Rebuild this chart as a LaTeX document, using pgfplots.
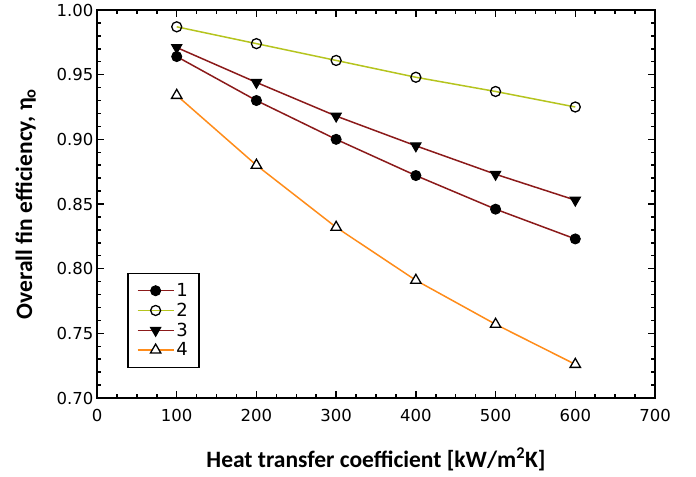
\documentclass[border=0pt]{standalone}
\usepackage{pgfplots}
\pgfplotsset{compat=1.18}
\usepackage{fontspec}
\setmainfont{DejaVu Sans}
\newfontfamily\labelfont{Carlito}
\usetikzlibrary{calc}
\definecolor{darkred}{HTML}{8B1A1A}
\definecolor{lime}{HTML}{B5C41E}
\definecolor{orangeline}{HTML}{FF8C1A}

\begin{document}
\begin{tikzpicture}
\begin{axis}[
  scale only axis,
  width=558pt, height=388pt,
  xmin=0, xmax=700, ymin=0.70, ymax=1.00,
  xtick={0,100,...,700},
  ytick={0.70,0.75,...,1.001},
  minor x tick num=3,
  minor y tick num=4,
  tick align=inside,
  major tick length=7pt,
  minor tick length=4pt,
  every tick/.style={line width=1.5pt, black},
  axis line style={line width=2pt},
  tick label style={font=\fontsize{16.5}{19}\selectfont},
  /pgf/number format/assume math mode=true,
  y tick label style={/pgf/number format/.cd, fixed, fixed zerofill, precision=2},
  x tick label style={yshift=-8pt, /pgf/number format/.cd, fixed},
  xlabel={\labelfont\bfseries Heat transfer coefficient [kW/m\textsuperscript{2}K]},
  ylabel={\labelfont\bfseries Overall fin efficiency, η\textsubscript{o}},
  label style={font=\fontsize{23.5}{27}\selectfont},
  xlabel style={yshift=-19pt},
  ylabel style={yshift=14pt},
  legend style={at={(0.054,0.077)}, anchor=south west, draw=black, line width=1.5pt,
    font=\fontsize{18}{21}\selectfont, row sep=1pt, inner xsep=9pt, inner ysep=8pt},
  legend cell align=left,
  legend image code/.code={\draw[mark repeat=2,mark phase=2,line width=1.5pt] plot coordinates {(0pt,0pt)(18pt,0pt)(36pt,0pt)};},
]
\addplot[darkred, line width=1.5pt, mark=*, mark size=5pt, mark options={draw=black, fill=black, line width=1pt}]
  coordinates {(100,0.964) (200,0.930) (300,0.900) (400,0.872) (500,0.846) (600,0.823)};
\addlegendentry{1}
\addplot[lime, line width=1.5pt, mark=o, mark size=5pt, mark options={draw=black, fill=white, line width=1.3pt}]
  coordinates {(100,0.987) (200,0.974) (300,0.961) (400,0.948) (500,0.937) (600,0.925)};
\addlegendentry{2}
\addplot[darkred, line width=1.5pt, mark=triangle*, mark size=6pt, mark options={draw=black, fill=black, rotate=180, line width=1pt}]
  coordinates {(100,0.971) (200,0.944) (300,0.918) (400,0.895) (500,0.873) (600,0.853)};
\addlegendentry{3}
\addplot[orangeline, line width=1.5pt, mark=triangle*, mark size=6pt, mark options={draw=black, fill=white, line width=1.3pt}]
  coordinates {(100,0.934) (200,0.880) (300,0.832) (400,0.791) (500,0.757) (600,0.726)};
\addlegendentry{4}
\end{axis}
\path ($(current axis.south west)+(-97pt,-78pt)$) rectangle ($(current axis.north east)+(41pt,10pt)$);
\end{tikzpicture}
\end{document}
